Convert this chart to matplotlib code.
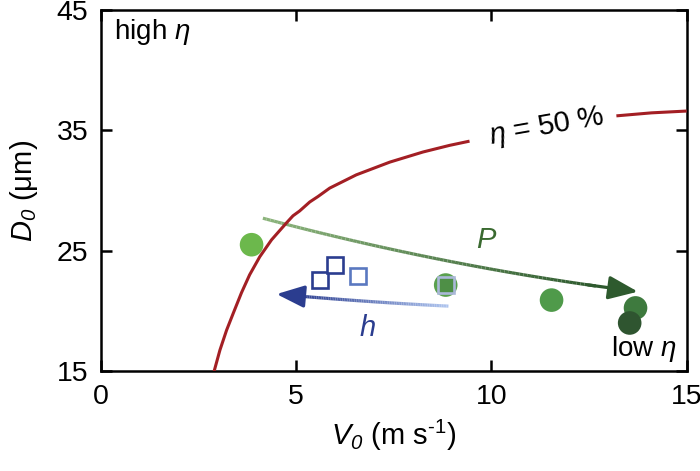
import numpy as np
import matplotlib
matplotlib.use("Agg")
import matplotlib.pyplot as plt
from matplotlib.collections import LineCollection
from matplotlib.patches import FancyArrowPatch
from matplotlib.colors import LinearSegmentedColormap

plt.rcParams['font.family'] = ['Liberation Sans', 'DejaVu Sans']
plt.rcParams['mathtext.fontset'] = 'custom'
plt.rcParams['mathtext.rm'] = 'Liberation Sans'
plt.rcParams['mathtext.it'] = 'Liberation Sans:italic'
plt.rcParams['mathtext.sf'] = 'Liberation Sans:italic'
plt.rcParams['mathtext.bf'] = 'Liberation Sans:bold'

# ---- data ----
circle_v = [3.86, 8.83, 11.54, 13.69, 13.54]
circle_d = [25.5, 22.15, 20.9, 20.25, 19.0]
circle_colors = ['#6cb84c', '#5aa04e', '#4f9a4a', '#3e7a3e', '#2f5530']

square_v = [5.6, 6.0, 6.58]
square_d = [22.6, 23.8, 22.9]
square_colors = ['#2b3d8f', '#2b3d8f', '#5a78c0']
inner_square_v = [8.83]
inner_square_d = [22.15]

eta_v_low = [2.89, 3.05, 3.22, 3.39, 3.60, 3.81, 4.07, 4.37, 4.75, 4.92, 5.09, 5.35,
             5.56, 5.86, 6.54, 7.40, 8.25, 8.93, 9.44]
eta_d_low = [14.86, 16.75, 18.4, 19.8, 21.5, 23.0, 24.5, 25.9, 27.3, 27.9, 28.3, 29.05,
             29.5, 30.2, 31.3, 32.36, 33.2, 33.75, 34.1]
eta_v_high = [13.2, 14.1, 15.0]
eta_d_high = [36.2, 36.45, 36.6]

# arrows: start, control, end (data coordinates)
p_arrow_v = [4.15, 8.9, 13.75]
p_arrow_d = [27.7, 23.6, 21.6]
h_arrow_v = [8.9, 6.7, 4.5]
h_arrow_d = [20.4, 20.75, 21.4]

xticks = [0, 5, 10, 15]
yticks = [15, 25, 35, 45]

fig = plt.figure(figsize=(7.0, 4.71), dpi=100)
ax = fig.add_axes([0.144, 0.212, 0.837, 0.767])
ax.set_xlim(0, 15)
ax.set_ylim(15, 45)
ax.set_xticks(xticks)
ax.set_yticks(yticks)
ax.tick_params(direction='in', length=8, width=1.8, labelsize=20.5,
               top=True, right=True, pad=9)
for s in ax.spines.values():
    s.set_linewidth(1.8)

ax.set_xlabel(r'$V_{\mathsf{0}}$ (m s$^{\text{-}1}$)', fontsize=21, labelpad=6)
ax.set_ylabel(r'$D_{\mathsf{0}}$ ($\mathrm{\mu}$m)', fontsize=21, labelpad=12)


def bezier(vs, ds, n=100):
    t = np.linspace(0, 1, n)[:, None]
    p0 = np.array([vs[0], ds[0]]); p1 = np.array([vs[1], ds[1]]); p2 = np.array([vs[2], ds[2]])
    return (1 - t) ** 2 * p0 + 2 * (1 - t) * t * p1 + t ** 2 * p2


def grad_arrow(vs, ds, c0, c1, lw, hl, hw, ms):
    pts = bezier(vs, ds)
    cut = 88
    segs = np.stack([pts[:-1], pts[1:]], axis=1)[:cut]
    cmap = LinearSegmentedColormap.from_list('g', [c0, c1])
    lc = LineCollection(segs, colors=cmap(np.linspace(0, 1, len(segs))), linewidth=lw,
                        capstyle='butt', zorder=3)
    ax.add_collection(lc)
    arr = FancyArrowPatch(tuple(pts[cut - 2]), tuple(pts[-1]),
                          arrowstyle=f'-|>,head_length={hl},head_width={hw}',
                          mutation_scale=ms, color=c1, lw=lw, shrinkA=0, shrinkB=0, zorder=3)
    ax.add_patch(arr)


grad_arrow(p_arrow_v, p_arrow_d, '#8cb47c', '#2e5a2e', 2.3, 1.0, 0.4, 18)
grad_arrow(h_arrow_v, h_arrow_d, '#aec4ee', '#2b3d8f', 2.3, 1.0, 0.4, 17)

# red eta curve
ax.plot(eta_v_low, eta_d_low, color='#a31f24', lw=2.2, zorder=5, solid_capstyle='butt',
        solid_joinstyle='round')
ax.plot(eta_v_high, eta_d_high, color='#a31f24', lw=2.2, zorder=5, solid_capstyle='butt',
        solid_joinstyle='round')

# circles
ax.scatter(circle_v, circle_d, s=17 ** 2, c=circle_colors, edgecolors='none', zorder=4)
# squares
for v, d, c in zip(square_v, square_d, square_colors):
    ax.plot(v, d, marker='s', ms=11, mfc='white', mec=c, mew=1.9, zorder=4, ls='none')
ax.plot(inner_square_v, inner_square_d, marker='s', ms=11, mfc='#4e8f46', mec='#aab8d8',
        mew=1.9, zorder=4.5, ls='none')

# texts
ax.text(11.42, 35.3, r'$\eta$ = 50 %', fontsize=21, rotation=10, ha='center', va='center',
        color='black', zorder=6)
ax.text(9.88, 25.9, r'$P$', fontsize=21, color='#3a6a30', ha='center', va='center')
ax.text(6.83, 18.6, r'$h$', fontsize=21, color='#2b3d8f', ha='center', va='center')
ax.text(0.35, 44.4, r'high $\eta$', fontsize=20, ha='left', va='top')
ax.text(14.75, 15.6, r'low $\eta$', fontsize=20, ha='right', va='bottom')

fig.savefig('out.png', dpi=100)
